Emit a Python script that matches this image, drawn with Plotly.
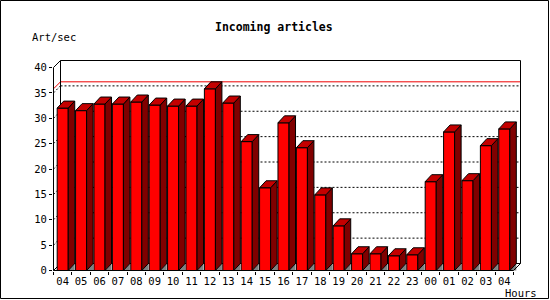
import plotly.graph_objects as go

# ---- data ----
hours = ["04", "05", "06", "07", "08", "09", "10", "11", "12", "13", "14", "15",
         "16", "17", "18", "19", "20", "21", "22", "23", "00", "01", "02", "03", "04"]
rates = [32.0, 31.5, 32.8, 32.8, 33.2, 32.6, 32.4, 32.4, 35.8, 33.0, 25.4, 16.3,
         29.1, 24.2, 14.9, 8.8, 3.3, 3.3, 2.9, 3.1, 17.5, 27.3, 17.7, 24.6, 27.9]
y_ticks = [0, 5, 10, 15, 20, 25, 30, 35, 40]
title = "Incoming articles"
y_title = "Art/sec"
x_title = "Hours"

# ---- geometry (pixels -> data units) ----
W, H = 550, 300
L, R, T, B = 53, 29, 60, 29
PW, PH = W - L - R, H - T - B
SX = 18.4            # px per category
SY = 5.075           # px per unit
x_min = -0.5 - 0.5 / SX
x_max = x_min + PW / SX
y_min = -0.5 / SY
y_max = y_min + PH / SY

FRAME_DX = 7.0 / SX
FRAME_DY = 7.0 / SY
BAR_DX = 6.5 / SX
BAR_DY = 7.0 / SY
BAR_W = 0.6
N = len(rates)
xs = list(range(N))
x_left, x_right = -0.5, N - 0.5
y_top = y_ticks[-1]

FRONT = "#ff0000"
SIDE = "#800000"
TOP = "#c40000"
SHADOW = "#808080"

fig = go.Figure()

# front faces
fig.add_trace(go.Bar(x=xs, y=rates, width=BAR_W,
                     marker=dict(color=FRONT, line=dict(color="black", width=1)),
                     hoverinfo="skip"))

# shadows, side and top faces computed from data
sh_x, sh_y, sd_x, sd_y, tp_x, tp_y = [], [], [], [], [], []
for i, v in zip(xs, rates):
    xl, xr = i - BAR_W / 2, i + BAR_W / 2
    sh_x += [xr, xr + BAR_DX, xr + BAR_DX, xr, None]
    sh_y += [0, BAR_DY, 0, 0, None]
    sd_x += [xr, xr, xr + BAR_DX, xr + BAR_DX, xr, None]
    sd_y += [0, v, v + BAR_DY, BAR_DY, 0, None]
    tp_x += [xl, xl + BAR_DX, xr + BAR_DX, xr, xl, None]
    tp_y += [v, v + BAR_DY, v + BAR_DY, v, v, None]

fig.add_trace(go.Scatter(x=sh_x, y=sh_y, mode="lines", fill="toself",
                         fillcolor=SHADOW, line=dict(width=0, color=SHADOW),
                         hoverinfo="skip"))
fig.add_trace(go.Scatter(x=sd_x, y=sd_y, mode="lines", fill="toself",
                         fillcolor=SIDE, line=dict(width=1, color="black"),
                         hoverinfo="skip"))
fig.add_trace(go.Scatter(x=tp_x, y=tp_y, mode="lines", fill="toself",
                         fillcolor=TOP, line=dict(width=1, color="black"),
                         hoverinfo="skip"))

shapes = []


def seg(x0, y0, x1, y1, color="black", dash=None, layer="below"):
    ln = dict(color=color, width=1)
    if dash:
        ln["dash"] = dash
    shapes.append(dict(type="line", xref="x", yref="y", x0=x0, y0=y0, x1=x1, y1=y1,
                       line=ln, layer=layer))


# dotted grid on back wall + side diagonals
for v in y_ticks[1:-1]:
    seg(x_left + FRAME_DX, v + FRAME_DY, x_right + FRAME_DX, v + FRAME_DY, dash="2px,2px")
    seg(x_left, v, x_left + FRAME_DX, v + FRAME_DY, dash="2px,2px")

# max line
m = max(rates)
seg(x_left, m, x_left + FRAME_DX, m + FRAME_DY, color="#ee0000")
seg(x_left + FRAME_DX, m + FRAME_DY, x_right + FRAME_DX, m + FRAME_DY, color="#ee0000")

# back wall frame
seg(x_left + FRAME_DX, y_top + FRAME_DY, x_right + FRAME_DX, y_top + FRAME_DY)
seg(x_left + FRAME_DX, FRAME_DY, x_left + FRAME_DX, y_top + FRAME_DY)
seg(x_right + FRAME_DX, FRAME_DY, x_right + FRAME_DX, y_top + FRAME_DY)
seg(x_left + FRAME_DX, FRAME_DY, x_right + FRAME_DX, FRAME_DY)
seg(x_left, y_top, x_left + FRAME_DX, y_top + FRAME_DY)
seg(x_left, 0, x_left + FRAME_DX, FRAME_DY)
# front axes
seg(x_left, 0, x_left, y_top, layer="above")
seg(x_left, 0, x_right, 0, layer="above")
seg(x_right, 0, x_right + FRAME_DX, FRAME_DY, layer="above")


def px(p):
    return (p - L) / PW


def py(p):
    return (H - B - p) / PH


# outer border
shapes.append(dict(type="rect", xref="paper", yref="paper",
                   x0=px(0.5), x1=px(548.5), y0=py(298.5), y1=py(0.5),
                   line=dict(color="black", width=1), fillcolor="rgba(0,0,0,0)",
                   layer="above"))

MONO = "DejaVu Sans Mono"
annotations = [
    dict(text="<b>" + title + "</b>", xref="paper", yref="paper", x=px(274), y=py(27),
         xanchor="center", yanchor="middle", showarrow=False,
         font=dict(family=MONO, size=11.5, color="black")),
    dict(text=y_title, xref="paper", yref="paper", x=px(29.5), y=py(37),
         xanchor="left", yanchor="middle", showarrow=False,
         font=dict(family=MONO, size=10.5, color="black")),
    dict(text=x_title, xref="paper", yref="paper", x=px(503), y=py(292.5),
         xanchor="left", yanchor="middle", showarrow=False,
         font=dict(family=MONO, size=10.5, color="black")),
]

fig.update_layout(
    width=W, height=H,
    margin=dict(l=L, r=R, t=T, b=B, pad=0),
    paper_bgcolor="white", plot_bgcolor="white",
    showlegend=False,
    shapes=shapes, annotations=annotations,
    font=dict(family=MONO, size=10.5, color="black"),
    xaxis=dict(range=[x_min, x_max], tickmode="array", tickvals=xs, ticktext=hours,
               ticks="", showgrid=False, zeroline=False, showline=False,
               ticklabelstandoff=2,
               tickfont=dict(family=MONO, size=10.5, color="black"),
               minor=dict(tickmode="array", tickvals=[x_left + k for k in range(N + 1)],
                          ticks="outside", ticklen=3, tickwidth=1, tickcolor="black",
                          showgrid=False),
               fixedrange=True),
    yaxis=dict(range=[y_min, y_max], tickmode="array", tickvals=y_ticks,
               ticks="outside", ticklen=3, tickwidth=1, tickcolor="black",
               showgrid=False, zeroline=False, showline=False,
               tickfont=dict(family=MONO, size=10.5, color="black"),
               fixedrange=True),
)

fig.write_html("out.html", config={"displayModeBar": False})
